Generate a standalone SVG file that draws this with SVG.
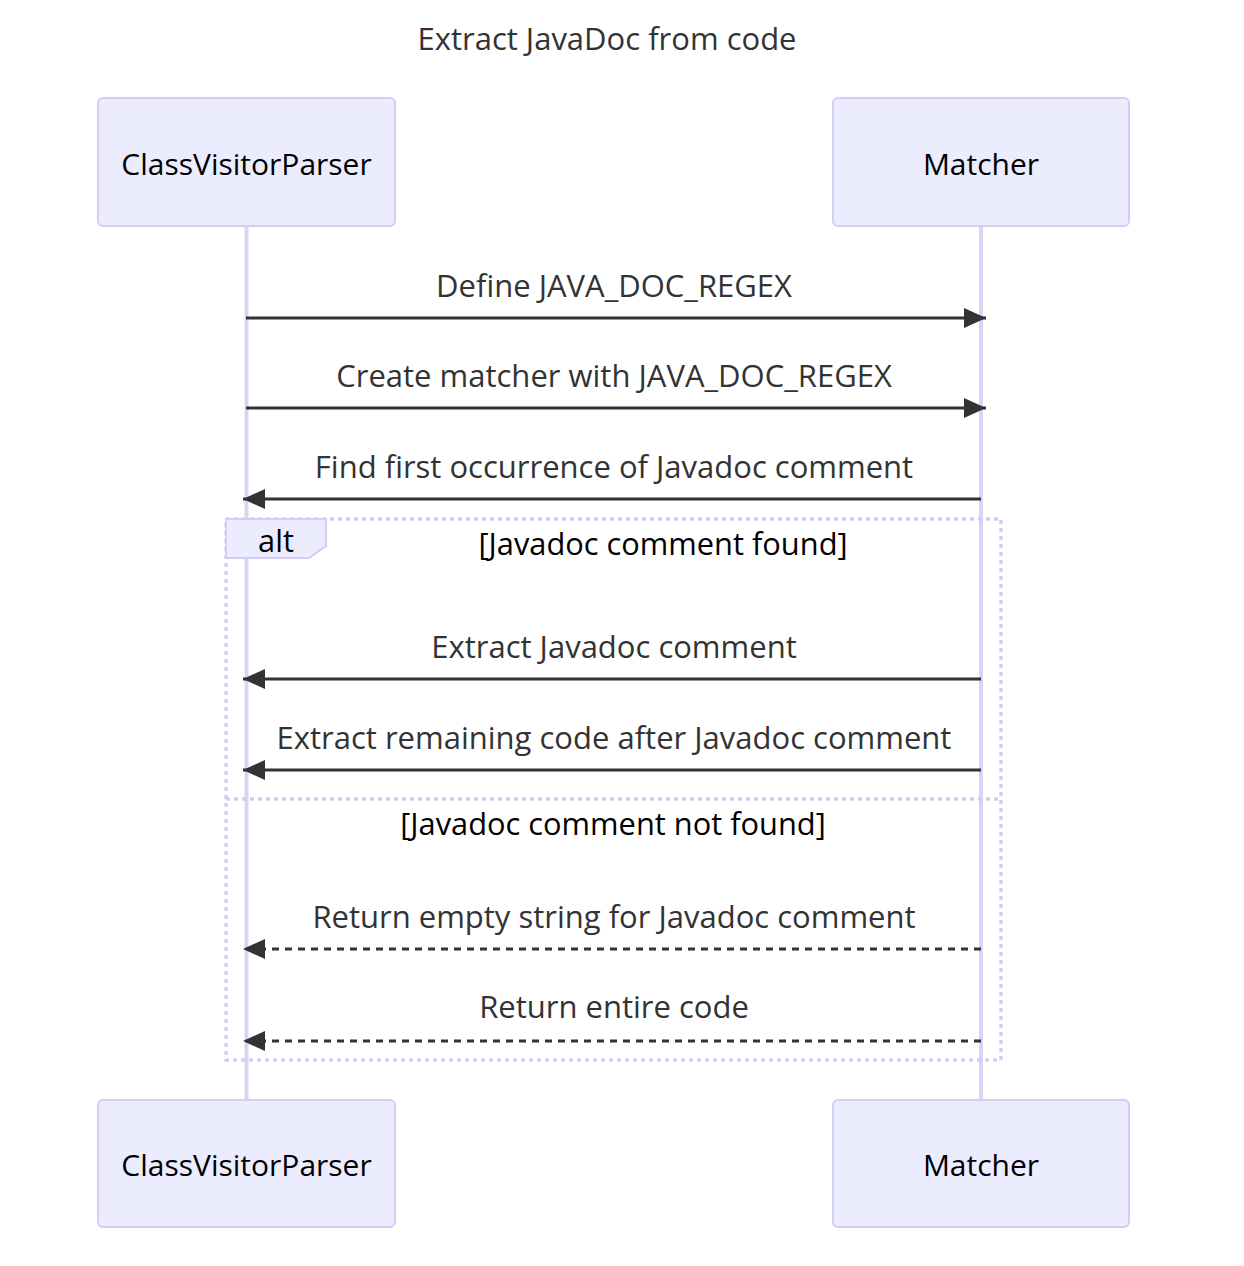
<svg xmlns="http://www.w3.org/2000/svg" width="1244" height="1266" viewBox="0 0 1244 1266">
<style>
text{font-family:"Open Sans","Noto Sans","DejaVu Sans",sans-serif;}
.actor rect{fill:#ECECFF;stroke:#d6ccf2;stroke-width:2;}
.actor text{font-size:30px;fill:#000;text-anchor:middle;dominant-baseline:central;}
.life{stroke:#dcd2f5;stroke-width:4;}
.msg{stroke:#333;stroke-width:3;fill:none;}
.dash{stroke-dasharray:7 6;}
.mtext{font-size:31px;fill:#333;text-anchor:middle;dominant-baseline:central;}
.frame{fill:none;stroke:#d6ccf2;stroke-width:3.5;stroke-dasharray:4 4;}
.lbl{fill:#ECECFF;stroke:#d6ccf2;stroke-width:2;}
.gtext{font-size:30.8px;fill:#000;text-anchor:middle;dominant-baseline:central;}
</style>
<defs>
<marker id="ah" viewBox="0 0 22 20" refX="22" refY="10" markerWidth="22" markerHeight="20" markerUnits="userSpaceOnUse" orient="auto">
<path d="M0,0 L22,10 L0,20 Z" fill="#333"/>
</marker>
</defs>
<rect width="1244" height="1266" fill="#fff"/>
<text x="607" y="38" font-size="31" fill="#333" text-anchor="middle" dominant-baseline="central">Extract JavaDoc from code</text>
<g id="lifelines">
<line class="life" x1="246.5" y1="226" x2="246.5" y2="1100"/>
<line class="life" x1="981" y1="226" x2="981" y2="1100"/>
</g>
<g id="actor-ClassVisitorParser-top" class="actor"><rect x="98" y="98" width="297" height="128" rx="5"/><text x="246.5" y="163">ClassVisitorParser</text></g>
<g id="actor-Matcher-top" class="actor"><rect x="833" y="98" width="296" height="128" rx="5"/><text x="981" y="163">Matcher</text></g>
<g id="actor-ClassVisitorParser-bottom" class="actor"><rect x="98" y="1100" width="297" height="127" rx="5"/><text x="246.5" y="1164">ClassVisitorParser</text></g>
<g id="actor-Matcher-bottom" class="actor"><rect x="833" y="1100" width="296" height="127" rx="5"/><text x="981" y="1164">Matcher</text></g>
<g id="alt-frame">
<rect class="frame" x="226" y="519" width="775" height="541"/>
<line class="frame" x1="226" y1="799" x2="1001" y2="799"/>
<polygon class="lbl" points="226,519 326,519 326,546 309,558 226,558"/>
<text class="gtext" x="276" y="540">alt</text>
<text class="gtext" x="663" y="543">[Javadoc comment found]</text>
<text class="gtext" x="613" y="823">[Javadoc comment not found]</text>
</g>
<g id="connectors">
<line class="msg" x1="246" y1="318" x2="986" y2="318" marker-end="url(#ah)"/>
<line class="msg" x1="246" y1="408" x2="986" y2="408" marker-end="url(#ah)"/>
<line class="msg" x1="981" y1="499" x2="243" y2="499" marker-end="url(#ah)"/>
<line class="msg" x1="981" y1="679" x2="243" y2="679" marker-end="url(#ah)"/>
<line class="msg" x1="981" y1="770" x2="243" y2="770" marker-end="url(#ah)"/>
<line class="msg dash" x1="981" y1="949" x2="243" y2="949" marker-end="url(#ah)"/>
<line class="msg dash" x1="981" y1="1041" x2="243" y2="1041" marker-end="url(#ah)"/>
<text class="mtext" x="614" y="285">Define JAVA_DOC_REGEX</text>
<text class="mtext" x="614" y="375">Create matcher with JAVA_DOC_REGEX</text>
<text class="mtext" x="614" y="466">Find first occurrence of Javadoc comment</text>
<text class="mtext" x="614" y="646">Extract Javadoc comment</text>
<text class="mtext" x="614" y="737">Extract remaining code after Javadoc comment</text>
<text class="mtext" x="614" y="916">Return empty string for Javadoc comment</text>
<text class="mtext" x="614" y="1006">Return entire code</text>
</g>
</svg>
